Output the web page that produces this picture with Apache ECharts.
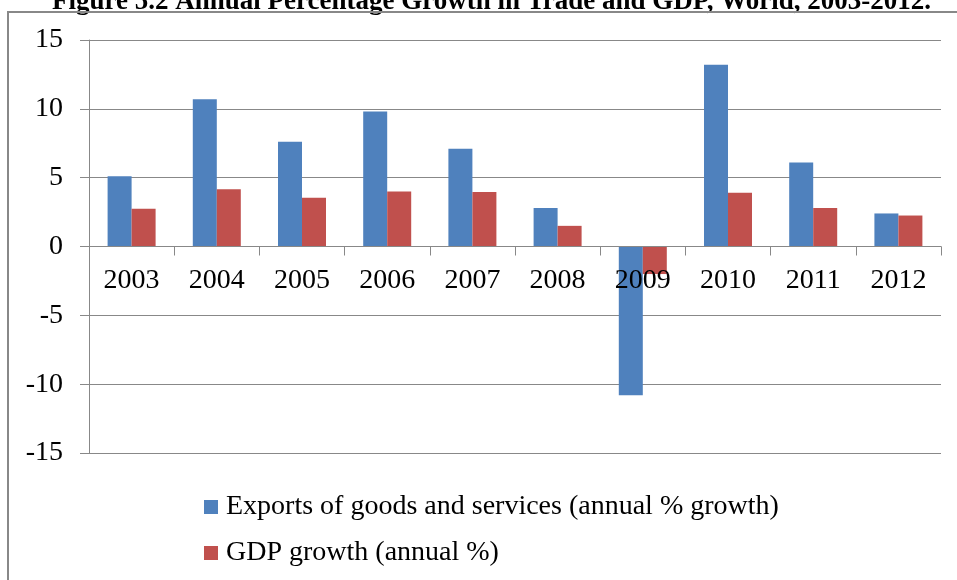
<!DOCTYPE html>
<html>
<head>
<meta charset="utf-8">
<script src="https://cdn.jsdelivr.net/npm/echarts@6/dist/echarts.min.js"></script>
<style>
  html, body { margin: 0; padding: 0; background: #fff; }
  #chart { width: 957px; height: 580px; }
</style>
</head>
<body>
<div id="chart"></div>
<script>
const years = ['2003','2004','2005','2006','2007','2008','2009','2010','2011','2012'];
const exportsGrowth = [5.1, 10.7, 7.6, 9.8, 7.1, 2.8, -10.8, 13.2, 6.1, 2.4];
const gdpGrowth = [2.75, 4.15, 3.55, 4.0, 3.95, 1.5, -2.0, 3.9, 2.8, 2.25];
const seriesNames = ['Exports of goods and services (annual % growth)', 'GDP growth (annual %)'];
const yTicks = { min: -15, max: 15, interval: 5 };
const titleText = 'Figure 5.2 Annual Percentage Growth in Trade and GDP, World, 2003-2012.';

const FONT = '"Liberation Serif", "Times New Roman", serif';
const GRAY = '#888888';
const GRID_TOP = 40, GRID_BOTTOM = 127, H = 580;
const plotH = H - GRID_TOP - GRID_BOTTOM;
const zeroOffset = -plotH * (0 - yTicks.min) / (yTicks.max - yTicks.min);

const chart = echarts.init(document.getElementById('chart'), null, { renderer: 'canvas' });
chart.setOption({
  backgroundColor: '#ffffff',
  animation: false,
  textStyle: { fontFamily: FONT },
  graphic: [
    { type: 'text', x: 52, y: -11, z: 1,
      style: { text: titleText, font: 'bold 27px ' + FONT, fill: '#000' } },
    { type: 'line', z: 2, shape: { x1: 8, y1: 12, x2: 957, y2: 12 },
      style: { stroke: GRAY, lineWidth: 2 } },
    { type: 'line', z: 2, shape: { x1: 8, y1: 11, x2: 8, y2: 580 },
      style: { stroke: GRAY, lineWidth: 2 } }
  ],
  grid: { left: 89, right: 16, top: GRID_TOP, bottom: GRID_BOTTOM, containLabel: false },
  legend: {
    orient: 'vertical',
    left: 204,
    top: 493,
    padding: 0,
    itemWidth: 14,
    itemHeight: 14,
    itemGap: 18,
    icon: 'rect',
    textStyle: { fontFamily: FONT, fontSize: 28, color: '#000', lineHeight: 28, padding: [0,0,0,3] },
    data: seriesNames
  },
  xAxis: {
    type: 'category',
    data: years,
    position: 'bottom',
    offset: zeroOffset,
    z: 5,
    axisLine: { show: true, onZero: false, lineStyle: { color: GRAY, width: 1 } },
    axisTick: { show: true, length: 9, inside: false, alignWithLabel: false, lineStyle: { color: GRAY } },
    axisLabel: { fontFamily: FONT, fontSize: 28, color: '#000', margin: 20 },
    splitLine: { show: false }
  },
  yAxis: {
    type: 'value',
    min: yTicks.min, max: yTicks.max, interval: yTicks.interval,
    axisLine: { show: true, lineStyle: { color: GRAY, width: 1 } },
    axisTick: { show: true, length: 9, lineStyle: { color: GRAY } },
    axisLabel: { fontFamily: FONT, fontSize: 28, color: '#000', margin: 26 },
    splitLine: { show: true, lineStyle: { color: GRAY, width: 1 } }
  },
  series: [
    { name: seriesNames[0], type: 'bar', data: exportsGrowth, barWidth: 24, barGap: '0%',
      itemStyle: { color: '#4f81bd' } },
    { name: seriesNames[1], type: 'bar', data: gdpGrowth, barWidth: 24, barGap: '0%',
      itemStyle: { color: '#c0504d' } }
  ]
});
</script>
</body>
</html>
